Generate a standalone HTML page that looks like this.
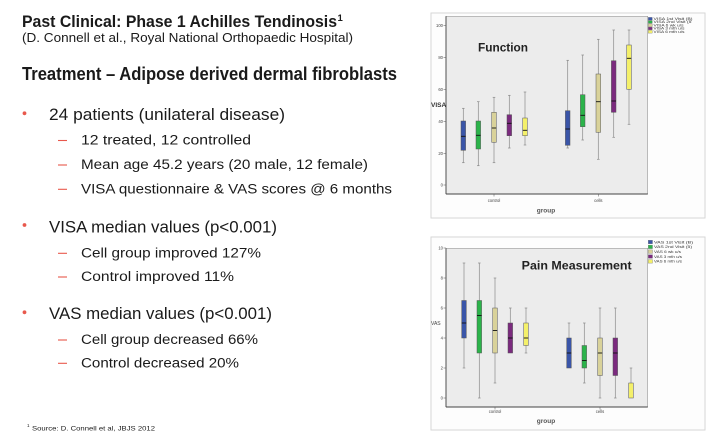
<!DOCTYPE html>
<html><head><meta charset="utf-8"><style>
html,body{margin:0;padding:0;background:#fff;}
svg{display:block;}
text{font-family:"Liberation Sans",sans-serif;}
</style></head><body>
<svg width="713" height="433" viewBox="0 0 713 433" xmlns="http://www.w3.org/2000/svg">
<rect width="713" height="433" fill="#fff"/>
<!-- Left text -->
<g fill="#1a1a1a">
<text x="22" y="27" font-size="16.5" font-weight="bold" textLength="315" lengthAdjust="spacingAndGlyphs">Past Clinical: Phase 1 Achilles Tendinosis</text>
<text x="337.5" y="21" font-size="9.5" font-weight="bold">1</text>
<text x="22" y="42" font-size="12.5" textLength="331" lengthAdjust="spacingAndGlyphs">(D. Connell et al., Royal National Orthopaedic Hospital)</text>
<text x="22" y="80" font-size="18.5" font-weight="bold" textLength="375" lengthAdjust="spacingAndGlyphs">Treatment – Adipose derived dermal fibroblasts</text>

<text x="49" y="120" font-size="16.5" textLength="236" lengthAdjust="spacingAndGlyphs">24 patients (unilateral disease)</text>
<text x="81" y="144.3" font-size="14.2" textLength="170" lengthAdjust="spacingAndGlyphs">12 treated, 12 controlled</text>
<text x="81" y="169" font-size="14.2" textLength="287" lengthAdjust="spacingAndGlyphs">Mean age 45.2 years (20 male, 12 female)</text>
<text x="81" y="193.3" font-size="14.2" textLength="311" lengthAdjust="spacingAndGlyphs">VISA questionnaire &amp; VAS scores @ 6 months</text>

<text x="49" y="232.3" font-size="16.5" textLength="228" lengthAdjust="spacingAndGlyphs">VISA median values (p&lt;0.001)</text>
<text x="81" y="257.3" font-size="14.2" textLength="180" lengthAdjust="spacingAndGlyphs">Cell group improved 127%</text>
<text x="81" y="281" font-size="14.2" textLength="153" lengthAdjust="spacingAndGlyphs">Control improved 11%</text>

<text x="49" y="319" font-size="16.5" textLength="223" lengthAdjust="spacingAndGlyphs">VAS median values (p&lt;0.001)</text>
<text x="81" y="344" font-size="14.2" textLength="177" lengthAdjust="spacingAndGlyphs">Cell group decreased 66%</text>
<text x="81" y="367.3" font-size="14.2" textLength="158" lengthAdjust="spacingAndGlyphs">Control decreased 20%</text>

<text x="27" y="427" font-size="4.5">1</text>
<text x="32" y="430.5" font-size="6.5" textLength="123" lengthAdjust="spacingAndGlyphs">Source: D. Connell et al, JBJS 2012</text>
</g>
<g fill="#e8584c">
<circle cx="24.5" cy="113.3" r="1.9"/>
<circle cx="24.5" cy="225" r="1.9"/>
<circle cx="24.5" cy="312.3" r="1.9"/>
</g>
<g stroke="#e8584c" stroke-width="1.1">
<line x1="58" y1="140.5" x2="67" y2="140.5"/>
<line x1="58" y1="165" x2="67" y2="165"/>
<line x1="58" y1="189.3" x2="67" y2="189.3"/>
<line x1="58" y1="253.3" x2="67" y2="253.3"/>
<line x1="58" y1="277" x2="67" y2="277"/>
<line x1="58" y1="340" x2="67" y2="340"/>
<line x1="58" y1="363.3" x2="67" y2="363.3"/>
</g>

<!-- Top chart -->
<rect x="431" y="13" width="274" height="205" fill="#fdfdfd" stroke="#d6d6d6" stroke-width="1"/>
<rect x="446" y="16.3" width="201.7" height="177.7" fill="#ececec" stroke="#9a9a9a" stroke-width="0.6"/>
<line x1="446" y1="16.3" x2="446" y2="194" stroke="#444" stroke-width="0.9"/>
<line x1="446" y1="194" x2="647.7" y2="194" stroke="#444" stroke-width="0.9"/>
<g stroke="#555" stroke-width="0.5">
<line x1="443.5" y1="25.7" x2="446" y2="25.7"/>
<line x1="443.5" y1="57.6" x2="446" y2="57.6"/>
<line x1="443.5" y1="89.5" x2="446" y2="89.5"/>
<line x1="443.5" y1="121.4" x2="446" y2="121.4"/>
<line x1="443.5" y1="153.3" x2="446" y2="153.3"/>
<line x1="443.5" y1="185" x2="446" y2="185"/>
<line x1="494" y1="194" x2="494" y2="196.5"/>
<line x1="598.3" y1="194" x2="598.3" y2="196.5"/>
</g>
<g fill="#444" font-size="4.2" text-anchor="end">
<text x="443" y="27.2">100</text>
<text x="443" y="59.1">80</text>
<text x="443" y="91">60</text>
<text x="443" y="122.9">40</text>
<text x="443" y="154.8">20</text>
<text x="443" y="186.5">0</text>
</g>
<g fill="#444" font-size="4.2" text-anchor="middle">
<text x="494" y="202">control</text>
<text x="598.3" y="202">cells</text>
</g>
<text x="546" y="212.5" fill="#555" font-size="6.5" font-weight="bold" text-anchor="middle">group</text>
<text x="431" y="107" fill="#333" font-size="6.5" font-weight="bold">VISA</text>
<text x="478" y="51.5" fill="#222" font-size="12" font-weight="bold" textLength="50" lengthAdjust="spacingAndGlyphs">Function</text>

<!-- top boxes: whiskers -->
<g stroke="#8a8a8a" stroke-width="0.7">
<line x1="463.3" y1="108.3" x2="463.3" y2="162.7"/><line x1="462" y1="108.3" x2="464.6" y2="108.3"/><line x1="462" y1="162.7" x2="464.6" y2="162.7"/>
<line x1="478.3" y1="101.7" x2="478.3" y2="165.7"/><line x1="477" y1="101.7" x2="479.6" y2="101.7"/><line x1="477" y1="165.7" x2="479.6" y2="165.7"/>
<line x1="494" y1="97.3" x2="494" y2="162.7"/><line x1="492.7" y1="97.3" x2="495.3" y2="97.3"/><line x1="492.7" y1="162.7" x2="495.3" y2="162.7"/>
<line x1="509.3" y1="95.3" x2="509.3" y2="148"/><line x1="508" y1="95.3" x2="510.6" y2="95.3"/><line x1="508" y1="148" x2="510.6" y2="148"/>
<line x1="525" y1="92" x2="525" y2="145"/><line x1="523.7" y1="92" x2="526.3" y2="92"/><line x1="523.7" y1="145" x2="526.3" y2="145"/>
<line x1="567.7" y1="60.3" x2="567.7" y2="148"/><line x1="566.4" y1="60.3" x2="569" y2="60.3"/><line x1="566.4" y1="148" x2="569" y2="148"/>
<line x1="582.7" y1="55" x2="582.7" y2="140"/><line x1="581.4" y1="55" x2="584" y2="55"/><line x1="581.4" y1="140" x2="584" y2="140"/>
<line x1="598.3" y1="39.3" x2="598.3" y2="159.3"/><line x1="597" y1="39.3" x2="599.6" y2="39.3"/><line x1="597" y1="159.3" x2="599.6" y2="159.3"/>
<line x1="613.7" y1="30" x2="613.7" y2="137.3"/><line x1="612.4" y1="30" x2="615" y2="30"/><line x1="612.4" y1="137.3" x2="615" y2="137.3"/>
<line x1="629" y1="30" x2="629" y2="124.3"/><line x1="627.7" y1="30" x2="630.3" y2="30"/><line x1="627.7" y1="124.3" x2="630.3" y2="124.3"/>
</g>
<g stroke="#555" stroke-width="0.5">
<rect x="461" y="121" width="4.6" height="29.3" fill="#3a55a8"/>
<rect x="476" y="121" width="4.6" height="28" fill="#2bb34a"/>
<rect x="491.7" y="112.3" width="4.6" height="30" fill="#d9d29a"/>
<rect x="507" y="114.7" width="4.6" height="21" fill="#7b2a7e"/>
<rect x="522.7" y="118" width="4.6" height="17.7" fill="#f4f06a"/>
<rect x="565.4" y="110.7" width="4.6" height="34.6" fill="#3a55a8"/>
<rect x="580.4" y="94.7" width="4.6" height="32" fill="#2bb34a"/>
<rect x="596" y="74" width="4.6" height="58.3" fill="#d9d29a"/>
<rect x="611.4" y="60.7" width="4.6" height="51.6" fill="#7b2a7e"/>
<rect x="626.7" y="45" width="4.6" height="44.3" fill="#f4f06a"/>
</g>
<g stroke="#111" stroke-width="0.9">
<line x1="461" y1="136.3" x2="465.6" y2="136.3"/>
<line x1="476" y1="135.3" x2="480.6" y2="135.3"/>
<line x1="491.7" y1="128" x2="496.3" y2="128"/>
<line x1="507" y1="123.3" x2="511.6" y2="123.3"/>
<line x1="522.7" y1="130.3" x2="527.3" y2="130.3"/>
<line x1="565.4" y1="129" x2="570" y2="129"/>
<line x1="580.4" y1="115.3" x2="585" y2="115.3"/>
<line x1="596" y1="101.7" x2="600.6" y2="101.7"/>
<line x1="611.4" y1="101" x2="616" y2="101"/>
<line x1="626.7" y1="58.3" x2="631.3" y2="58.3"/>
</g>
<!-- top legend -->
<g stroke="#666" stroke-width="0.3">
<rect x="648.3" y="17.4" width="4" height="2.7" fill="#3a55a8"/>
<rect x="648.3" y="20.6" width="4" height="2.7" fill="#2bb34a"/>
<rect x="648.3" y="23.9" width="4" height="2.7" fill="#d9d29a"/>
<rect x="648.3" y="27.1" width="4" height="2.7" fill="#7b2a7e"/>
<rect x="648.3" y="30.4" width="4" height="2.7" fill="#f4f06a"/>
</g>
<g fill="#333" font-size="3.3">
<text x="653.5" y="20" textLength="39" lengthAdjust="spacingAndGlyphs">VISA 1st Visit (B)</text>
<text x="653.5" y="23.2" textLength="38" lengthAdjust="spacingAndGlyphs">VISA 2nd Visit (5</text>
<text x="653.5" y="26.5" textLength="30" lengthAdjust="spacingAndGlyphs">VISA 6 wk u/s</text>
<text x="653.5" y="29.7" textLength="31" lengthAdjust="spacingAndGlyphs">VISA 3 mth u/s</text>
<text x="653.5" y="33" textLength="31" lengthAdjust="spacingAndGlyphs">VISA 6 mth u/s</text>
</g>

<!-- Bottom chart -->
<rect x="431" y="237" width="274" height="193" fill="#fdfdfd" stroke="#d6d6d6" stroke-width="1"/>
<rect x="446" y="248.3" width="201.7" height="158.7" fill="#ececec" stroke="#9a9a9a" stroke-width="0.6"/>
<line x1="446" y1="248.3" x2="446" y2="407" stroke="#444" stroke-width="0.9"/>
<line x1="446" y1="407" x2="647.7" y2="407" stroke="#444" stroke-width="0.9"/>
<g stroke="#555" stroke-width="0.5">
<line x1="443.5" y1="248" x2="446" y2="248"/>
<line x1="443.5" y1="278" x2="446" y2="278"/>
<line x1="443.5" y1="308" x2="446" y2="308"/>
<line x1="443.5" y1="338" x2="446" y2="338"/>
<line x1="443.5" y1="368" x2="446" y2="368"/>
<line x1="443.5" y1="398" x2="446" y2="398"/>
<line x1="495" y1="407" x2="495" y2="409.5"/>
<line x1="600" y1="407" x2="600" y2="409.5"/>
</g>
<g fill="#444" font-size="4.2" text-anchor="end">
<text x="443" y="249.5">10</text>
<text x="443" y="279.5">8</text>
<text x="443" y="309.5">6</text>
<text x="443" y="339.5">4</text>
<text x="443" y="369.5">2</text>
<text x="443" y="399.5">0</text>
</g>
<g fill="#444" font-size="4.2" text-anchor="middle">
<text x="495" y="413">control</text>
<text x="600" y="413">cells</text>
</g>
<text x="546" y="423" fill="#555" font-size="6.5" font-weight="bold" text-anchor="middle">group</text>
<text x="431" y="325" fill="#444" font-size="5">VAS</text>
<text x="521.7" y="269.5" fill="#222" font-size="12" font-weight="bold" textLength="110" lengthAdjust="spacingAndGlyphs">Pain Measurement</text>

<g stroke="#8a8a8a" stroke-width="0.7">
<line x1="464" y1="263" x2="464" y2="368"/><line x1="462.7" y1="263" x2="465.3" y2="263"/><line x1="462.7" y1="368" x2="465.3" y2="368"/>
<line x1="479.3" y1="263" x2="479.3" y2="398"/><line x1="478" y1="263" x2="480.6" y2="263"/><line x1="478" y1="398" x2="480.6" y2="398"/>
<line x1="495" y1="278" x2="495" y2="383"/><line x1="493.7" y1="278" x2="496.3" y2="278"/><line x1="493.7" y1="383" x2="496.3" y2="383"/>
<line x1="510.3" y1="308" x2="510.3" y2="353"/><line x1="509" y1="308" x2="511.6" y2="308"/>
<line x1="526" y1="308" x2="526" y2="353"/><line x1="524.7" y1="308" x2="527.3" y2="308"/><line x1="524.7" y1="353" x2="527.3" y2="353"/>
<line x1="569" y1="323" x2="569" y2="368"/><line x1="567.7" y1="323" x2="570.3" y2="323"/>
<line x1="584.3" y1="323" x2="584.3" y2="383"/><line x1="583" y1="323" x2="585.6" y2="323"/><line x1="583" y1="383" x2="585.6" y2="383"/>
<line x1="600" y1="308" x2="600" y2="398"/><line x1="598.7" y1="308" x2="601.3" y2="308"/><line x1="598.7" y1="398" x2="601.3" y2="398"/>
<line x1="615.3" y1="308" x2="615.3" y2="398"/><line x1="614" y1="308" x2="616.6" y2="308"/><line x1="614" y1="398" x2="616.6" y2="398"/>
<line x1="631" y1="368" x2="631" y2="398"/><line x1="629.7" y1="368" x2="632.3" y2="368"/>
</g>
<g stroke="#555" stroke-width="0.5">
<rect x="461.7" y="300.5" width="4.6" height="37.5" fill="#3a55a8"/>
<rect x="477" y="300.5" width="4.6" height="52.5" fill="#2bb34a"/>
<rect x="492.7" y="308" width="4.6" height="45" fill="#d9d29a"/>
<rect x="508" y="323" width="4.6" height="30" fill="#7b2a7e"/>
<rect x="523.7" y="323" width="4.6" height="22.5" fill="#f4f06a"/>
<rect x="566.7" y="338" width="4.6" height="30" fill="#3a55a8"/>
<rect x="582" y="345.5" width="4.6" height="22.5" fill="#2bb34a"/>
<rect x="597.7" y="338" width="4.6" height="37.5" fill="#d9d29a"/>
<rect x="613" y="338" width="4.6" height="37.5" fill="#7b2a7e"/>
<rect x="628.7" y="383" width="4.6" height="15" fill="#f4f06a"/>
</g>
<g stroke="#111" stroke-width="0.9">
<line x1="461.7" y1="323" x2="466.3" y2="323"/>
<line x1="477" y1="315.5" x2="481.6" y2="315.5"/>
<line x1="492.7" y1="330.5" x2="497.3" y2="330.5"/>
<line x1="508" y1="338" x2="512.6" y2="338"/>
<line x1="523.7" y1="338" x2="528.3" y2="338"/>
<line x1="566.7" y1="353" x2="571.3" y2="353"/>
<line x1="582" y1="360.5" x2="586.6" y2="360.5"/>
<line x1="597.7" y1="353" x2="602.3" y2="353"/>
<line x1="613" y1="353" x2="617.6" y2="353"/>
</g>
<g stroke="#666" stroke-width="0.3">
<rect x="648.3" y="240.3" width="4.2" height="3.5" fill="#3a55a8"/>
<rect x="648.3" y="245.1" width="4.2" height="3.5" fill="#2bb34a"/>
<rect x="648.3" y="249.9" width="4.2" height="3.5" fill="#d9d29a"/>
<rect x="648.3" y="254.8" width="4.2" height="3.5" fill="#7b2a7e"/>
<rect x="648.3" y="259.6" width="4.2" height="3.5" fill="#f4f06a"/>
</g>
<g fill="#333" font-size="3.8">
<text x="654" y="243.4" textLength="39" lengthAdjust="spacingAndGlyphs">VAS 1st Visit (B)</text>
<text x="654" y="248.2" textLength="38" lengthAdjust="spacingAndGlyphs">VAS 2nd Visit (5)</text>
<text x="654" y="253" textLength="27" lengthAdjust="spacingAndGlyphs">VAS  6 wk u/s</text>
<text x="654" y="257.9" textLength="28" lengthAdjust="spacingAndGlyphs">VAS  3 mth u/s</text>
<text x="654" y="262.7" textLength="28" lengthAdjust="spacingAndGlyphs">VAS 6 mth u/s</text>
</g>
</svg>
</body></html>
